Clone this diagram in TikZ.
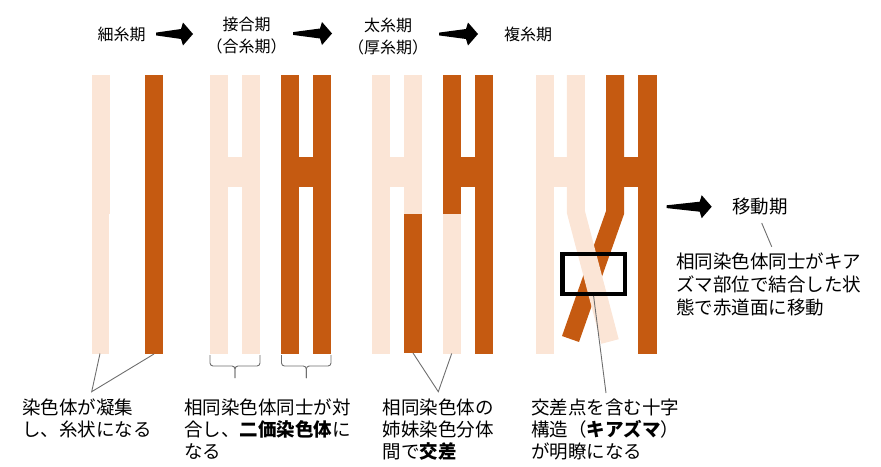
\documentclass[tikz,border=0pt]{standalone}
\usepackage{fontspec}
\setmainfont{Noto Sans CJK JP}
\definecolor{chromlight}{HTML}{FBE5D6}
\definecolor{chromdark}{HTML}{C55A11}
\definecolor{leadgray}{HTML}{6E6E6E}
\tikzset{
  pics/fatarrow/.style={code={
    \fill (0,-1.4) -- (#1-12,-5) -- (#1-10,-11.5) -- (#1,0) -- (#1-10,11.5) -- (#1-12,5) -- (0,1.4) -- cycle;}},
  stage/.style={font=\fontsize{16}{22}\selectfont, align=center, inner sep=0pt},
  note/.style={font=\fontsize{18.5}{22}\selectfont, align=left, anchor=north west, inner sep=0pt},
  lead/.style={draw=leadgray, line width=0.9pt},
  light/.style={fill=chromlight},
  dark/.style={fill=chromdark}
}
\begin{document}
\begin{tikzpicture}[x=1pt,y=-1pt]
    \useasboundingbox (0,0) rectangle (881,466);

    % stage names
    \node[stage] (S1) at (121.7,34) {細糸期};
    \node[stage] (S2) at (246.7,36) {接合期\\（合糸期）};
    \node[stage] (S3) at (388,36) {太糸期\\（厚糸期）};
    \node[stage] (S4) at (528,34) {複糸期};
    \pic at (156,34) {fatarrow=37};
    \pic at (293,33.5) {fatarrow=39};
    \pic at (439,34) {fatarrow=39};

    % leptotene
    \fill[light] (91.7,75) rectangle (109.7,214);
    \fill[light] (91.7,214) rectangle (109.2,354);
    \fill[dark] (145,75) rectangle (163,214);
    \fill[dark] (144.7,214) rectangle (162.7,354);

    % zygotene
    \fill[light] (210,75) rectangle (228.3,354);
    \fill[light] (242.3,75) rectangle (260,354);
    \fill[light] (228,157) rectangle (242.6,187);
    \fill[dark] (281.3,75) rectangle (299.3,354);
    \fill[dark] (312.7,75) rectangle (331,354);
    \fill[dark] (299,157) rectangle (313,187);

    % pachytene
    \fill[light] (372,75) rectangle (390,354);
    \fill[light] (403.7,75) rectangle (421.7,214);
    \fill[dark] (403.7,214) rectangle (421.7,353);
    \fill[light] (389.7,157) rectangle (404,187);
    \fill[dark] (442.7,75) rectangle (461,214);
    \fill[light] (442.7,214) rectangle (461,354);
    \fill[dark] (474.7,75) rectangle (493,354);
    \fill[dark] (460.7,157) rectangle (475,187);

    % diplotene
    \fill[light] (535.7,75) rectangle (554,354);
    \fill[light] (553.7,157) rectangle (567,187);
    \fill[dark] (638.3,75) rectangle (656.7,354);
    \fill[dark] (624,157) rectangle (638.6,187);
    \draw[chromdark, line width=18pt, miter limit=10] (615.2,75) -- (615.2,212) -- (570.5,339);
    \draw[chromlight, line width=18pt, miter limit=10] (575.9,75) -- (575.9,212) -- (610,341.5);
    \node[draw, line width=4.5pt, minimum width=62.7pt, minimum height=39.7pt, inner sep=0pt] (X) at (593.6,273.9) {};

    % diakinesis
    \pic at (666.7,206.7) {fatarrow=45};
    \node[note, anchor=west] (E) at (732,206.7) {移動期};
    \node[note, font=\fontsize{18.5}{23.3}\selectfont] (R) at (676,252.4) {相同染色体同士がキア\\ズマ部位で結合した状\\態で赤道面に移動};
    \draw[lead] (761.7,223) -- (771.7,246.7);

    % notes
    \node[note] (T1) at (22,399) {染色体が凝集\\し、糸状になる};
    \node[note] (T2) at (184,399) {相同染色体同士が対\\合し、\textbf{二価染色体}に\\なる};
    \node[note] (T3) at (382.5,399) {相同染色体の\\姉妹染色分体\\間で\textbf{交差}};
    \node[note] (T4) at (531,399) {交差点を含む十字\\構造（\textbf{キアズマ}）\\が明瞭になる};

    \coordinate (P1) at (91.7,391.7);
    \coordinate (P3) at (438.3,391.7);
    \coordinate (P4) at (606,393);
    \draw[lead] (100,353.5) -- (P1) -- (154,354);
    \draw[lead] (413,353) -- (P3) -- (451.7,353.5);
    \draw[lead] (X.south) -- (P4);
    \draw[lead, rounded corners=3pt] (210,355) -- (210,366) -- (235,366) -- (235,378);
    \draw[lead, rounded corners=3pt] (260,355) -- (260,366) -- (235,366) -- (235,378);
    \draw[lead, rounded corners=3pt] (281.5,355) -- (281.5,366) -- (306.3,366) -- (306.3,378);
    \draw[lead, rounded corners=3pt] (331,355) -- (331,366) -- (306.3,366) -- (306.3,378);
\end{tikzpicture}
\end{document}
